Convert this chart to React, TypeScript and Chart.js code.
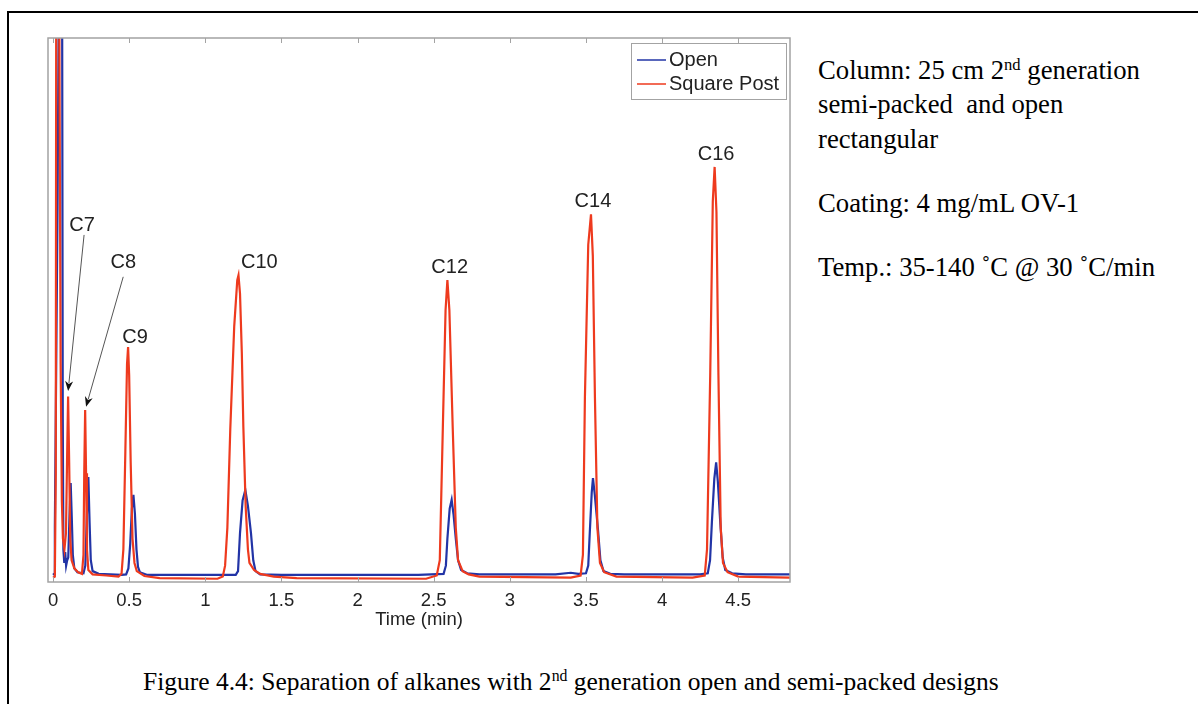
import React, { useEffect, useRef } from 'react';
import { Chart, registerables } from 'chart.js';

Chart.register(...registerables);

// ---------- data ----------
const xTicks = [0, 0.5, 1, 1.5, 2, 2.5, 3, 3.5, 4, 4.5];
const seriesNames = ['Open', 'Square Post'];

// Open column (blue trace)
const openTime = [
  0, 0.008, 0.012, 0.03, 0.045, 0.058, 0.064, 0.068, 0.074, 0.08, 0.086, 0.093, 0.1, 0.108, 0.116, 0.123, 0.13,
  0.14, 0.16, 0.2, 0.212, 0.222, 0.232, 0.24, 0.248, 0.26, 0.3, 0.45, 0.48, 0.495, 0.507, 0.518, 0.528, 0.538,
  0.548, 0.558, 0.57, 0.62, 0.9, 1.2, 1.215, 1.228, 1.245, 1.263, 1.28, 1.3, 1.315, 1.33, 1.36, 1.5, 2.0, 2.4,
  2.565, 2.58, 2.59, 2.605, 2.618, 2.63, 2.645, 2.66, 2.68, 2.72, 2.8, 3.3, 3.4, 3.45, 3.5, 3.515, 3.526, 3.538,
  3.546, 3.558, 3.579, 3.595, 3.615, 3.66, 3.75, 4.25, 4.3, 4.315, 4.327, 4.343, 4.355, 4.366, 4.382, 4.398,
  4.415, 4.46, 4.55, 4.84,
];
const openSignal = [
  1.3, 1.5, 10, 70, 140, 140, 30, 6, 3.5, 5.5, 3, 4, 4.5, 12, 18.2, 12, 5,
  2.5, 1.8, 1.6, 3, 12, 19.3, 11, 4, 2, 1.5, 1.3, 1.4, 2.5, 7, 13.5, 16, 12.5,
  6, 2.8, 1.8, 1.3, 1.3, 1.3, 2, 9, 15, 16.9, 14, 9, 4, 2, 1.4, 1.3, 1.3, 1.3,
  1.5, 3, 8, 13.5, 15.1, 12.5, 8, 4, 2.2, 1.6, 1.4, 1.4, 1.7, 1.5, 1.6, 3, 9.6, 16.5,
  19.1, 16, 9.6, 4, 2, 1.5, 1.4, 1.4, 1.6, 4, 11, 19, 22, 18.5, 11, 4.5,
  2.2, 1.6, 1.4, 1.4,
];

// Square post column (red trace)
const squareTime = [
  0, 0.012, 0.018, 0.022, 0.036, 0.05, 0.058, 0.065, 0.075, 0.085, 0.092, 0.099, 0.106, 0.113, 0.122, 0.14,
  0.165, 0.19, 0.2, 0.205, 0.211, 0.217, 0.223, 0.232, 0.26, 0.35, 0.43, 0.45, 0.462, 0.475, 0.486, 0.493, 0.5,
  0.51, 0.522, 0.535, 0.55, 0.6, 0.7, 1.08, 1.115, 1.13, 1.145, 1.164, 1.19, 1.21, 1.218, 1.228, 1.24, 1.25,
  1.265, 1.28, 1.29, 1.32, 1.36, 1.45, 1.6, 2.45, 2.52, 2.54, 2.56, 2.578, 2.59, 2.603, 2.625, 2.645, 2.66,
  2.69, 2.73, 2.8, 3.4, 3.465, 3.48, 3.493, 3.515, 3.533, 3.545, 3.559, 3.575, 3.592, 3.62, 3.7, 4.2, 4.28,
  4.295, 4.316, 4.333, 4.345, 4.357, 4.37, 4.385, 4.4, 4.43, 4.5, 4.84,
];
const squareSignal = [
  0.8, 1.0, 20, 140, 140, 40, 15, 8, 6, 9, 22, 34.1, 22, 8, 4, 2.5,
  1.8, 1.5, 5, 20, 31.6, 20, 6, 2.2, 1.4, 1.2, 1.0, 1.5, 6, 24, 40, 43.2, 38,
  22, 8, 3.5, 2, 1.1, 0.7, 0.6, 1.0, 3, 10, 28, 47, 55.5, 56.4, 53, 42, 28.5,
  14, 6, 3.5, 2.2, 1.5, 1.0, 0.7, 0.6, 1.2, 4, 28.3, 50, 55.5, 50, 28.3, 10, 4,
  2, 1.4, 1.0, 0.8, 1.2, 5, 33.8, 62, 67.6, 60, 33.8, 10, 3.5, 1.8, 1.0, 0.8, 1.2,
  6, 38, 70, 76.3, 68, 38, 10, 3.5, 1.8, 1.0, 0.8,
];

// Peak labels (data coordinates)
const peakNames = ['C7', 'C8', 'C9', 'C10', 'C12', 'C14', 'C16'];
const peakLabelTime = [0.191, 0.461, 0.539, 1.355, 2.605, 3.546, 4.355];
const peakLabelSignal = [65.6, 58.8, 45.0, 58.8, 57.9, 70.0, 78.5];

// Arrows pointing at C7 and C8
const arrowFromTime = [0.204, 0.461];
const arrowFromSignal = [63.8, 56.1];
const arrowToTime = [0.099, 0.217];
const arrowToSignal = [35.1, 32.2];

// ---------- styles ----------
const SANS = "'Liberation Sans', Arial, Helvetica, sans-serif";
const SERIF = "'Liberation Serif', 'Times New Roman', serif";
const BLUE = '#2234a6';
const RED = '#ee3a1e';
const AXIS_GREY = '#a3a3a3';
const TEXT = '#222222';

const framePlugin = {
  id: 'matlabFrame',
  afterDatasetsDraw(chart: any) {
    const { ctx, chartArea } = chart;
    const xs = chart.scales.x;
    ctx.save();
    ctx.strokeStyle = AXIS_GREY;
    ctx.lineWidth = 1.5;
    ctx.strokeRect(chartArea.left, chartArea.top, chartArea.right - chartArea.left, chartArea.bottom - chartArea.top);
    ctx.lineWidth = 1;
    ctx.beginPath();
    xTicks.forEach((v) => {
      const px = Math.round(xs.getPixelForValue(v)) + 0.5;
      ctx.moveTo(px, chartArea.bottom);
      ctx.lineTo(px, chartArea.bottom - 5);
      ctx.moveTo(px, chartArea.top);
      ctx.lineTo(px, chartArea.top + 5);
    });
    ctx.stroke();
    ctx.restore();
  },
};

const annotationPlugin = {
  id: 'peakAnnotations',
  afterDatasetsDraw(chart: any) {
    const { ctx } = chart;
    const xs = chart.scales.x;
    const ys = chart.scales.y;
    ctx.save();
    ctx.fillStyle = TEXT;
    ctx.font = `20px ${SANS}`;
    ctx.textAlign = 'center';
    ctx.textBaseline = 'middle';
    peakNames.forEach((name, i) => {
      ctx.fillText(name, xs.getPixelForValue(peakLabelTime[i]), ys.getPixelForValue(peakLabelSignal[i]));
    });
    arrowFromTime.forEach((_, i) => {
      const x1 = xs.getPixelForValue(arrowFromTime[i]);
      const y1 = ys.getPixelForValue(arrowFromSignal[i]);
      const x2 = xs.getPixelForValue(arrowToTime[i]);
      const y2 = ys.getPixelForValue(arrowToSignal[i]);
      const ang = Math.atan2(y2 - y1, x2 - x1);
      const headLen = 10;
      const headW = 4;
      ctx.strokeStyle = '#555555';
      ctx.lineWidth = 1;
      ctx.beginPath();
      ctx.moveTo(x1, y1);
      ctx.lineTo(x2 - Math.cos(ang) * headLen * 0.8, y2 - Math.sin(ang) * headLen * 0.8);
      ctx.stroke();
      ctx.fillStyle = '#111111';
      ctx.beginPath();
      ctx.moveTo(x2, y2);
      const bx = x2 - Math.cos(ang) * headLen;
      const by = y2 - Math.sin(ang) * headLen;
      ctx.lineTo(bx + Math.sin(ang) * headW, by - Math.cos(ang) * headW);
      ctx.lineTo(x2 - Math.cos(ang) * headLen * 0.7, y2 - Math.sin(ang) * headLen * 0.7);
      ctx.lineTo(bx - Math.sin(ang) * headW, by + Math.cos(ang) * headW);
      ctx.closePath();
      ctx.fill();
    });
    ctx.restore();
  },
};

const legendPlugin = {
  id: 'insideLegend',
  afterDraw(chart: any) {
    const { ctx, chartArea } = chart;
    const w = 155;
    const h = 56;
    const left = chartArea.right - 4 - w;
    const top = chartArea.top + 5;
    ctx.save();
    ctx.fillStyle = '#ffffff';
    ctx.fillRect(left, top, w, h);
    ctx.strokeStyle = AXIS_GREY;
    ctx.lineWidth = 1;
    ctx.strokeRect(left + 0.5, top + 0.5, w, h);
    ctx.font = `20px ${SANS}`;
    ctx.textBaseline = 'middle';
    ctx.textAlign = 'left';
    chart.data.datasets.forEach((ds: any, i: number) => {
      const y = top + 17 + i * 24;
      ctx.strokeStyle = ds.borderColor;
      ctx.lineWidth = 1.5;
      ctx.beginPath();
      ctx.moveTo(left + 6, y);
      ctx.lineTo(left + 35, y);
      ctx.stroke();
      ctx.fillStyle = TEXT;
      ctx.fillText(ds.label, left + 38, y);
    });
    ctx.restore();
  },
};

function ChartView() {
  const ref = useRef<HTMLCanvasElement>(null);
  useEffect(() => {
    if (!ref.current) return;
    const chart = new Chart(ref.current, {
      type: 'scatter',
      data: {
        datasets: [
          {
            label: seriesNames[0],
            data: openTime.map((t, i) => ({ x: t, y: openSignal[i] })),
            borderColor: BLUE,
            backgroundColor: BLUE,
            borderWidth: 2.2,
            showLine: true,
            pointRadius: 0,
            order: 1,
          },
          {
            label: seriesNames[1],
            data: squareTime.map((t, i) => ({ x: t, y: squareSignal[i] })),
            borderColor: RED,
            backgroundColor: RED,
            borderWidth: 2.2,
            showLine: true,
            pointRadius: 0,
            order: 0,
          },
        ],
      },
      options: {
        responsive: false,
        animation: false,
        devicePixelRatio: 1,
        layout: { padding: { left: 48, top: 38, right: 10, bottom: 9 } },
        plugins: { legend: { display: false }, tooltip: { enabled: false }, title: { display: false } },
        scales: {
          x: {
            type: 'linear',
            min: -0.033,
            max: 4.84,
            grid: { display: false, drawTicks: false },
            border: { display: false },
            afterBuildTicks: (axis: any) => {
              axis.ticks = xTicks.map((v) => ({ value: v }));
            },
            afterFit: (axis: any) => {
              axis.height = 49;
            },
            ticks: {
              padding: 8,
              color: TEXT,
              autoSkip: false,
              maxRotation: 0,
              font: { family: SANS, size: 18.5 },
              callback: (v: any) => String(v),
            },
            title: {
              display: true,
              text: 'Time (min)',
              color: TEXT,
              padding: 0,
              font: { family: SANS, size: 18.5 },
            },
          },
          y: { type: 'linear', display: false, min: 0, max: 100 },
        },
      } as any,
      plugins: [framePlugin, annotationPlugin, legendPlugin],
    });
    return () => chart.destroy();
  }, []);
  return (
    <canvas
      ref={ref}
      width={800}
      height={640}
      style={{ position: 'absolute', left: 0, top: 0, width: 800, height: 640 }}
    />
  );
}

const lineStyle = (top: number, left: number, size: number): React.CSSProperties => ({
  position: 'absolute',
  left,
  top,
  fontFamily: SERIF,
  fontSize: size,
  lineHeight: `${size}px`,
  color: '#000',
  whiteSpace: 'pre',
});

const supStyle: React.CSSProperties = {
  fontSize: '0.62em',
  position: 'relative',
  top: '-0.55em',
  verticalAlign: 'baseline',
};

export default function App() {
  return (
    <div
      style={{
        position: 'absolute',
        left: 0,
        top: 0,
        width: 1198,
        height: 704,
        overflow: 'hidden',
        background: '#ffffff',
      }}
    >
      <div
        style={{
          position: 'absolute',
          left: 7,
          top: 11,
          width: 1400,
          height: 900,
          border: '2px solid #000',
        }}
      />
      <ChartView />
      <div style={lineStyle(57, 818, 26.7)}>
        Column: 25 cm 2<span style={supStyle}>nd</span> generation
      </div>
      <div style={lineStyle(91, 818, 26.7)}>{'semi-packed  and open'}</div>
      <div style={lineStyle(126, 818, 26.7)}>rectangular</div>
      <div style={lineStyle(189.5, 818, 26.7)}>Coating: 4 mg/mL OV-1</div>
      <div style={lineStyle(253.5, 818, 26.7)}>{'Temp.: 35-140 ˚C @ 30 ˚C/min'}</div>
      <div style={lineStyle(669, 143, 25.5)}>
        Figure 4.4: Separation of alkanes with 2<span style={supStyle}>nd</span> generation open and semi-packed designs
      </div>
    </div>
  );
}
